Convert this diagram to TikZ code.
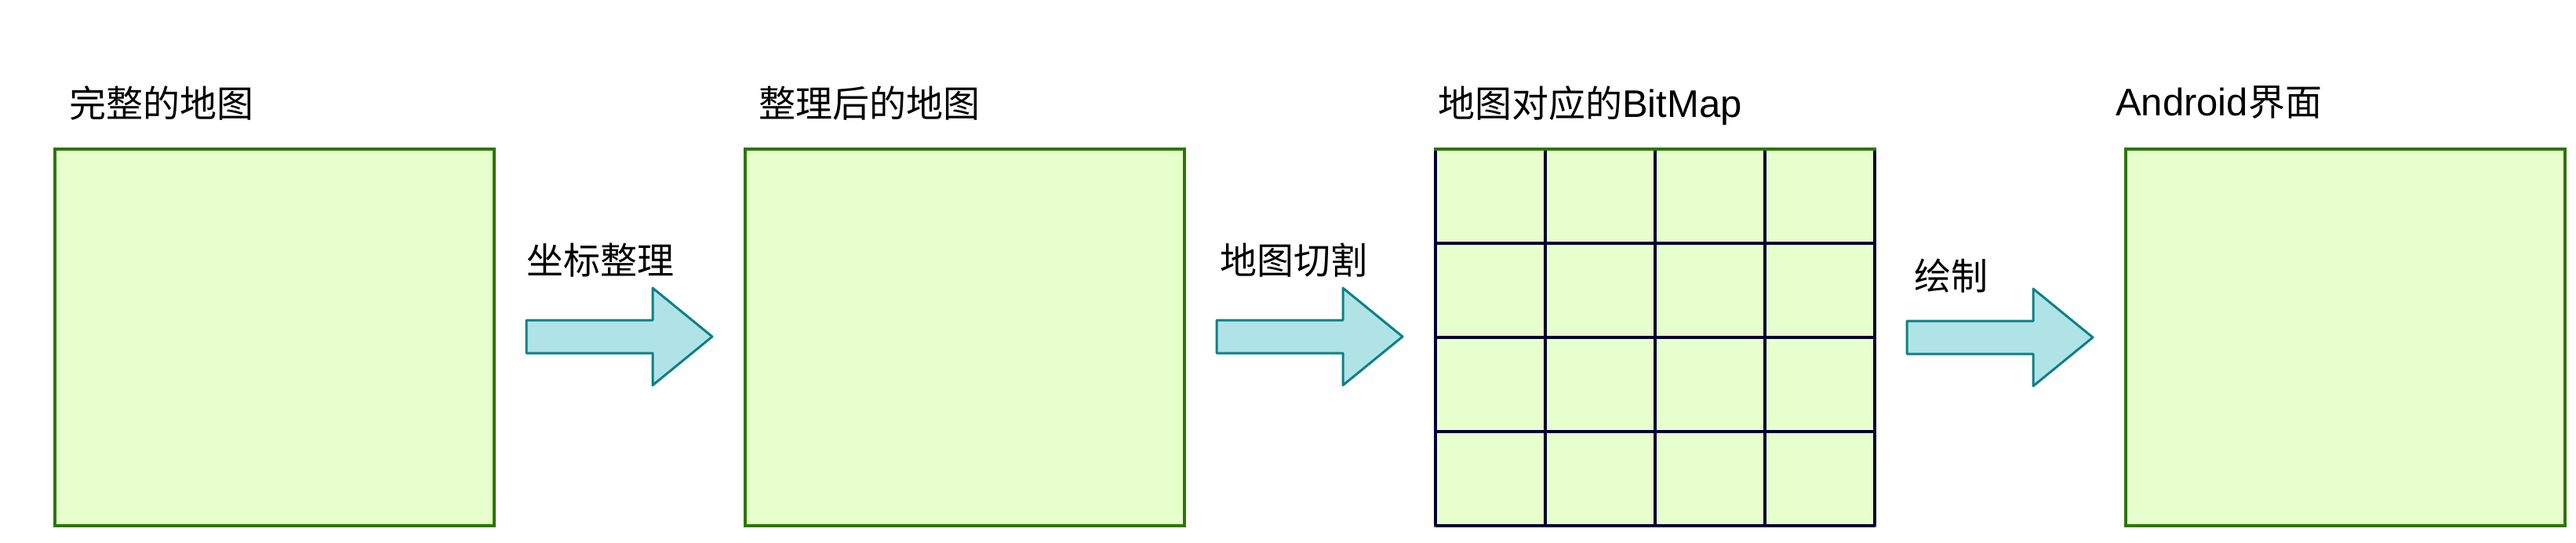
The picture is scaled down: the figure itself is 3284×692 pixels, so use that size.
\documentclass[tikz,border=0pt]{standalone}
\usepackage{fontspec}
\setmainfont{Liberation Sans}
\newfontfamily\cjk{Noto Sans CJK SC}
\usetikzlibrary{calc}
\definecolor{boxfill}{HTML}{E6FFCC}
\definecolor{boxline}{HTML}{2D7600}
\definecolor{gridcol}{HTML}{000033}
\definecolor{arrfill}{HTML}{B0E3E6}
\definecolor{arrline}{HTML}{0E8088}
\newcommand{\latinsz}{\fontsize{49}{56}\selectfont}
\tikzset{
  mapbox/.style={draw=boxline, fill=boxfill, line width=4pt, minimum width=560pt, minimum height=480pt, inner sep=0pt, outer sep=0pt},
  gridline/.style={draw=gridcol, line width=4pt},
  label/.style={anchor=base west, inner sep=0pt, font=\fontsize{47}{56}\selectfont},
  bigarrow/.style={draw=arrline, fill=arrfill, line width=3pt, line join=round},
}
\begin{document}
\begin{tikzpicture}[x=1pt, y=-1pt]
\useasboundingbox (0,0) rectangle (3284,692);
% boxes
\node[mapbox] (full) at (350,430) {};
\node[mapbox] (tidy) at (1230,430) {};
\node[mapbox] (grid) at (2110,430) {};
\node[mapbox] (android) at (2990,430) {};
% grid lines
\foreach \i in {0,...,4} {
  \draw[gridline] ($(grid.north west)!\i/4!(grid.north east)+(0,2)$) -- ($(grid.south west)!\i/4!(grid.south east)$);
}
\foreach \j in {1,...,4} {
  \draw[gridline] ($(grid.north west)!\j/4!(grid.south west)$) -- ($(grid.north east)!\j/4!(grid.south east)$);
}
% titles
\node[label] (t1) at (88,150) {\cjk 完整的地图};
\node[label] (t2) at (967,150) {\cjk 整理后的地图};
\node[label] (t3) at (1833,150) {{\cjk 地图对应的}{\latinsz BitMap}};
\node[label] (t4) at (2697,148) {{\latinsz Android}{\cjk 界面}};
% arrows
\coordinate (a1) at (671,429);
\coordinate (a2) at (1551,429);
\coordinate (a3) at (2431,430);
\foreach \a in {a1,a2,a3} {
  \draw[bigarrow] (\a) ++(0,-21) -- ++(161,0) -- ++(0,-41) -- ++(76,62) -- ++(-76,62) -- ++(0,-41) -- ++(-161,0) -- cycle;
}
\node[label] (l1) at (671,350) {\cjk 坐标整理};
\node[label] (l2) at (1555,350) {\cjk 地图切割};
\node[label] (l3) at (2440,370) {\cjk 绘制};
\end{tikzpicture}
\end{document}
